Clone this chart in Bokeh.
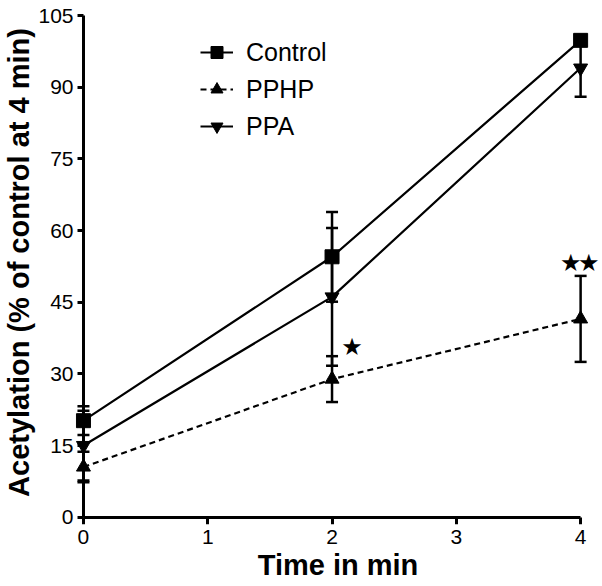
from bokeh.plotting import figure
from bokeh.models import (Range1d, ColumnDataSource, Whisker, TeeHead, Legend,
                          LegendItem, FixedTicker, LinearAxis)
from bokeh.core.properties import value
from bokeh.embed import file_html
from bokeh.resources import INLINE

# ---- data ----
time = [0, 2, 4]
control = [20.2, 54.5, 99.8]
control_err = [3.0, 9.4, 0.5]
pphp = [10.5, 28.9, 41.5]
pphp_err = [3.2, 4.8, 9.0]
ppa = [15.0, 46.1, 94.0]
ppa_err = [7.3, 14.4, 6.0]
x_ticks = [0, 1, 2, 3, 4]
y_ticks = [0, 15, 30, 45, 60, 75, 90, 105]
star_x = [2.16, 3.92, 4.066]
star_y = [35.6, 53.1, 53.1]
star_text = ["★", "★", "★"]

FONT = "Liberation Sans"

p = figure(width=600, height=586,
           x_range=Range1d(-0.064, 4.16), y_range=Range1d(-1.53, 108.14),
           output_backend="svg", toolbar_location=None,
           x_axis_location=None, y_axis_location=None,
           min_border_left=72, min_border_right=0, min_border_top=0,
           min_border_bottom=62)
p.outline_line_color = None
p.xgrid.visible = False
p.ygrid.visible = False
p.background_fill_color = "white"

# axis lines + ticks, fixed at the origin
def line_axis(ticks, bounds, tick_out):
    ax = LinearAxis(ticker=FixedTicker(ticks=ticks), fixed_location=0, bounds=bounds,
                    axis_line_width=3, axis_line_color="black",
                    major_tick_line_width=3, major_tick_line_color="black",
                    major_tick_in=0, major_tick_out=tick_out,
                    minor_tick_line_color=None, major_label_text_color=None,
                    major_label_text_font_size="1px")
    return ax

p.add_layout(line_axis(x_ticks, (0, 4), 7), "below")
p.add_layout(line_axis(y_ticks, (0, 105), 6), "left")

# label-only axes in the side panels
def label_axis(ticks, bounds, label, standoff, label_standoff):
    ax = LinearAxis(ticker=FixedTicker(ticks=ticks), bounds=bounds,
                    axis_line_color=None, major_tick_line_color=None,
                    major_tick_in=0, major_tick_out=0,
                    minor_tick_line_color=None, minor_tick_in=0, minor_tick_out=0,
                    major_label_text_font=FONT, major_label_text_font_size="21px",
                    major_label_text_color="black",
                    major_label_standoff=standoff,
                    axis_label=label, axis_label_text_font=FONT,
                    axis_label_text_font_size="29px",
                    axis_label_text_font_style="bold",
                    axis_label_text_color="black",
                    axis_label_standoff=label_standoff)
    return ax

p.add_layout(label_axis(x_ticks, (0, 4), "Time in min", 5, 2), "below")
p.add_layout(label_axis(y_ticks, (0, 105), "Acetylation (% of control at 4 min)", 2, 0), "left")

series = [
    ("Control", control, control_err, "square", "solid"),
    ("PPHP", pphp, pphp_err, "triangle", "6 4"),
    ("PPA", ppa, ppa_err, "inverted_triangle", "solid"),
]

items = []
for name, vals, errs, marker, dash in series:
    src = ColumnDataSource(dict(
        x=time, y=vals,
        upper=[v + e for v, e in zip(vals, errs)],
        lower=[v - e for v, e in zip(vals, errs)]))
    w = Whisker(source=src, base="x", upper="upper", lower="lower",
                dimension="height", line_width=2.5, line_color="black",
                level="underlay",
                upper_head=TeeHead(size=12, line_width=2.5, line_color="black"),
                lower_head=TeeHead(size=12, line_width=2.5, line_color="black"))
    p.add_layout(w)
    ln = p.line("x", "y", source=src, line_width=2.2, line_color="black", line_dash=dash)
    sc = p.scatter("x", "y", source=src, marker=marker, size=14,
                   fill_color="black", line_color="black")
    items.append(LegendItem(label=name, renderers=[ln, sc]))

p.text(x=star_x, y=star_y, text=star_text, text_align="center",
       text_baseline="middle", text_font=value("DejaVu Sans"),
       text_font_size="24px", text_color="black")

legend = Legend(items=items, location=(125, 383), padding=0, margin=0,
                border_line_color=None, background_fill_alpha=0,
                label_text_font=FONT, label_text_font_size="25px",
                label_text_color="black",
                glyph_width=33, glyph_height=30, label_height=30,
                label_standoff=13, spacing=7)
p.add_layout(legend)

open("out.html", "w").write(file_html(p, INLINE))
